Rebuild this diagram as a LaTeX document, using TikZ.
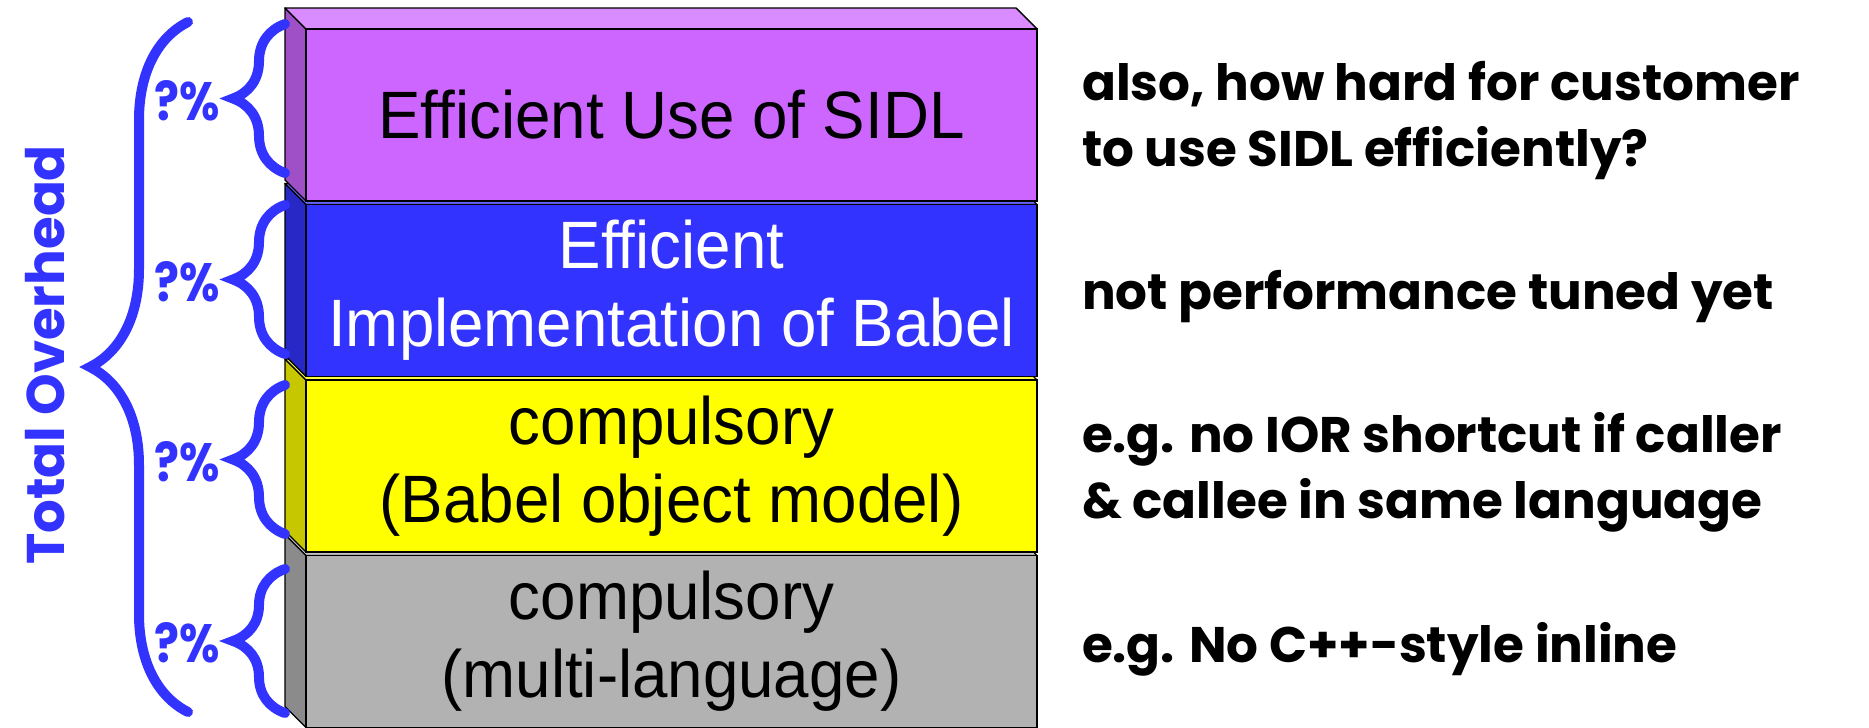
\documentclass[tikz,border=0pt]{standalone}
\usepackage{fontspec}
\setmainfont{Liberation Sans}[FakeStretch=0.95]
\newfontfamily\notefont{Poppins}
\newfontfamily\pctfont{Poppins}[FakeStretch=0.86]
\usepackage{xcolor}
\usetikzlibrary{positioning,calc,decorations.pathreplacing,backgrounds}
\definecolor{ovblue}{HTML}{3333FF}
\definecolor{sidlc}{HTML}{CC66FF}
\definecolor{implc}{HTML}{3333FF}
\definecolor{bomc}{HTML}{FFFF00}
\definecolor{mlc}{HTML}{B2B2B2}

\begin{document}
\begin{tikzpicture}[
  x=0.5pt, y=-0.5pt,
  layer/.style={draw, line width=0.7pt, inner sep=0pt, outer sep=0pt,
                minimum width=365.5pt, minimum height=86pt, align=center,
                font=\fontsize{33.5}{39}\selectfont},
  face/.style={draw, line width=0.7pt, line join=round},
  note/.style={font=\notefont\bfseries\fontsize{25}{33}\selectfont, align=left},
  pct/.style={font=\pctfont\bfseries\fontsize{27}{32}\selectfont, text=ovblue, inner sep=0pt},
  tot/.style={font=\notefont\bfseries\fontsize{26.5}{30}\selectfont, text=ovblue},
  brc/.style={draw=ovblue, line width=5pt, line cap=round, decorate,
              decoration={brace, amplitude=#1}},
]
  \useasboundingbox (0,0) rectangle (1869,728);
  \node[layer, fill=sidlc, anchor=north west] (sidl) at (306,29) {Efficient Use of SIDL};
  \node[layer, fill=implc, text=white, below=1.75pt of sidl] (impl) {Efficient\\Implementation of Babel};
  \node[layer, fill=bomc, below=1.75pt of impl] (bom) {compulsory\\(Babel object model)};
  \node[layer, fill=mlc, below=1.75pt of bom] (ml) {compulsory\\(multi-language)};
  \begin{scope}[on background layer]
    \foreach \b in {ml,bom,impl,sidl} {
      \draw[face, fill=\b c!78!black] (\b.north west) -- ++(-21,-21)
        -- ($(\b.south west)+(-21,-21)$) -- (\b.south west) -- cycle;
      \draw[face, fill=\b c!75!white] (\b.north west) -- ++(-21,-21)
        -- ($(\b.north east)+(-21,-21)$) -- (\b.north east) -- cycle;
    }
  \end{scope}
  \node[note, right=19pt of sidl, yshift=-3pt] (n1) {also, how hard for customer\\to use SIDL efficiently?};
  \node[note, right=19pt of impl, yshift=-3pt] (n2) {not performance tuned yet};
  \node[note, right=19pt of bom, yshift=-3pt] (n3) {e.g. no IOR shortcut if caller\\\& callee in same language};
  \node[note, right=19pt of ml, yshift=-4pt] (n4) {e.g. No C++-style inline};
  \draw[brc=26pt] (285,173) -- (285,24) node[pct, midway, left=30pt, yshift=-1pt] (q1) {?\%};
  \draw[brc=26pt] (285,354) -- (285,205) node[pct, midway, left=30pt, yshift=-1pt] (q2) {?\%};
  \draw[brc=26pt] (285,534) -- (285,385) node[pct, midway, left=30pt, yshift=-1pt] (q3) {?\%};
  \draw[brc=26pt] (285,713) -- (285,569) node[pct, midway, left=30pt, yshift=-1pt] (q4) {?\%};
  \draw[brc=49pt] (188,712) -- (188,22);
  \node[tot, rotate=90] (ovh) at (45,355) {Total Overhead};
\end{tikzpicture}
\end{document}
